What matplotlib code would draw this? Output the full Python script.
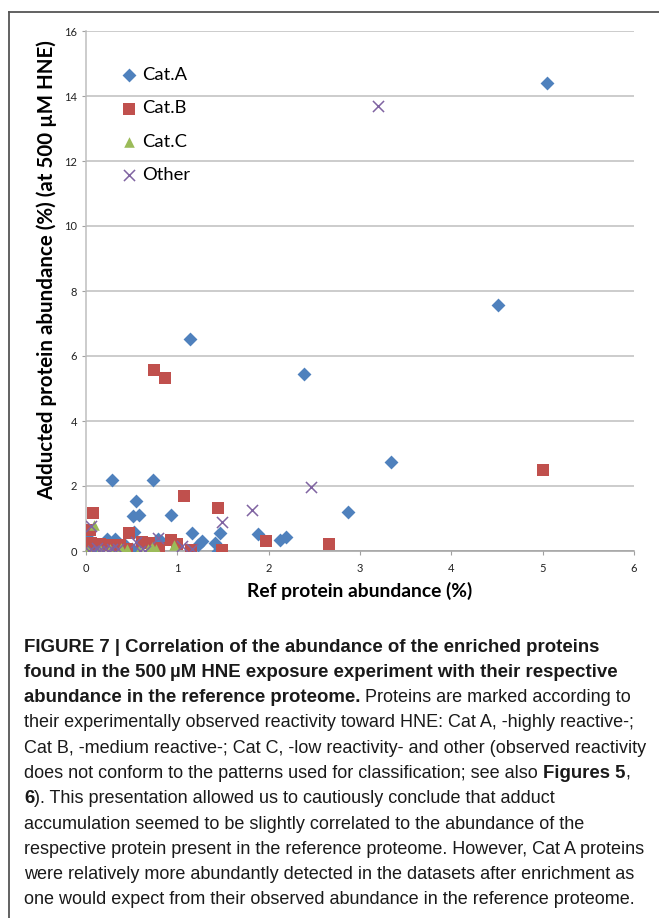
import matplotlib
matplotlib.use('Agg')
import matplotlib.pyplot as plt
from matplotlib import font_manager as fm
from matplotlib.lines import Line2D

# Dados
cat_a_x = [5.05, 4.51, 1.14, 2.39, 3.34, 0.29, 0.73, 2.87, 0.55, 0.52, 0.58, 0.93, 0.53, 1.16, 1.47, 1.88,
           2.12, 2.19, 1.27, 1.23, 1.41, 1.44, 0.23, 0.32, 0.03, 0.43, 0.79, 0.82, 0.05, 0.12, 0.50]
cat_a_y = [14.39, 7.57, 6.52, 5.45, 2.73, 2.18, 2.18, 1.20, 1.53, 1.08, 1.11, 1.10, 0.60, 0.56, 0.56, 0.53,
           0.35, 0.42, 0.32, 0.17, 0.24, 0.01, 0.38, 0.38, 0.36, 0.20, 0.36, 0.30, 0.05, 0.10, 0.05]

cat_b_x = [5.00, 0.74, 0.87, 1.07, 1.45, 0.08, 0.04, 0.47, 0.93, 1.00, 1.97, 2.66, 1.15, 1.49, 0.61, 0.69,
           0.80, 0.06, 0.15, 0.26, 0.37, 0.02, 0.45]
cat_b_y = [2.48, 5.57, 5.33, 1.68, 1.33, 1.18, 0.66, 0.56, 0.33, 0.23, 0.31, 0.23, 0.02, 0.03, 0.29, 0.24,
           0.10, 0.26, 0.23, 0.20, 0.17, 0.05, 0.05]

cat_c_x = [0.09, 0.96, 0.77, 0.68, 0.45, 0.26, 0.15, 0.02, 0.38, 0.58, 0.72]
cat_c_y = [0.80, 0.18, 0.05, 0.07, 0.05, 0.07, 0.05, 0.03, 0.10, 0.04, 0.12]

other_x = [3.20, 2.46, 1.82, 1.49, 0.79, 1.05, 1.16, 0.55, 0.06, 0.03, 0.08, 0.14, 0.19, 0.24, 0.35, 0.59,
           0.65, 0.12, 0.28]
other_y = [13.68, 1.96, 1.26, 0.88, 0.40, 0.15, 0.05, 0.27, 0.76, 0.00, 0.00, 0.00, 0.00, 0.00, 0.05, 0.00,
           0.00, 0.08, 0.05]

x_ticks = [0, 1, 2, 3, 4, 5, 6]
y_ticks = [0, 2, 4, 6, 8, 10, 12, 14, 16]

# Legenda do artigo: (texto, negrito)
caption = [
    [("FIGURE 7 | Correlation of the abundance of the enriched proteins", True)],
    [("found in the 500\u2009\u00b5M HNE exposure experiment with their respective", True)],
    [("abundance in the reference proteome.", True), (" Proteins are marked according to", False)],
    [("their experimentally observed reactivity toward HNE: Cat A, -highly reactive-;", False)],
    [("Cat B, -medium reactive-; Cat C, -low reactivity- and other (observed reactivity", False)],
    [("does not conform to the patterns used for classification; see also ", False), ("Figures 5", True), (",", False)],
    [("6", True), ("). This presentation allowed us to cautiously conclude that adduct", False)],
    [("accumulation seemed to be slightly correlated to the abundance of the", False)],
    [("respective protein present in the reference proteome. However, Cat A proteins", False)],
    [("were relatively more abundantly detected in the datasets after enrichment as", False)],
    [("one would expect from their observed abundance in the reference proteome.", False)],
]

nomes = [f.name for f in fm.fontManager.ttflist]
cap_font = 'Liberation Sans Narrow' if 'Liberation Sans Narrow' in nomes else 'Liberation Sans'
chart_font = 'Lato'

W, H = 659, 918
fig = plt.figure(figsize=(W / 100, H / 100), dpi=100)
fig.patch.set_facecolor('white')

ax = fig.add_axes([86 / W, 1 - 551 / H, (634 - 86) / W, (551 - 31) / H])

ax.scatter(cat_a_x, cat_a_y, marker='D', s=50, color='#4F81BD', label='Cat.A', zorder=3, linewidths=0)
ax.scatter(cat_b_x, cat_b_y, marker='s', s=66, color='#C0504D', label='Cat.B', zorder=3, linewidths=0)
ax.scatter(cat_c_x, cat_c_y, marker='^', s=58, color='#9BBB59', label='Cat.C', zorder=3, linewidths=0)
ax.scatter(other_x, other_y, marker='x', s=64, color='#8064A2', label='Other', zorder=3, linewidths=1.1)

ax.set_xlim(0, 6)
ax.set_ylim(0, 16)
ax.set_xticks(x_ticks)
ax.set_yticks(y_ticks)
ax.grid(axis='y', color='#BFBFBF', linewidth=1.1)
ax.set_axisbelow(True)
for s in ['top', 'right']:
    ax.spines[s].set_visible(False)
ax.spines['left'].set_color('#BFBFBF')
ax.spines['bottom'].set_color('#A0A0A0')
ax.spines['left'].set_linewidth(1.1)
ax.spines['bottom'].set_linewidth(1.1)
ax.tick_params(axis='both', colors='#A0A0A0', labelcolor='#222222', labelsize=8, length=3)
ax.tick_params(axis='x', pad=6)
for lab in ax.get_xticklabels() + ax.get_yticklabels():
    lab.set_family(chart_font)

ax.set_xlabel('Ref protein abundance (%)', family=chart_font, fontweight='bold', fontsize=13.9, labelpad=5)
ax.set_ylabel('Adducted protein abundance (%) (at 500 \u00b5M HNE)', family=chart_font, fontweight='bold',
              fontsize=14.8)
ax.yaxis.set_label_coords(-0.052, 0.54)

leg = ax.legend(loc='upper left', bbox_to_anchor=(0.045, 0.945), frameon=False,
                prop={'family': chart_font, 'size': 13.2},
                handletextpad=0.1, labelspacing=0.95, scatterpoints=1, handlelength=1.2, borderaxespad=0)

# moldura
fig.add_artist(Line2D([9 / W, 9 / W], [0, 1 - 12 / H], color='#555555', linewidth=1.3))
fig.add_artist(Line2D([9 / W, 1], [1 - 12 / H, 1 - 12 / H], color='#555555', linewidth=1.3))

# texto da legenda do artigo
fig.canvas.draw()
renderer = fig.canvas.get_renderer()
y0 = 647
dy = 25.3
for i, linha in enumerate(caption):
    x = 24
    for texto, negrito in linha:
        t = fig.text(x / W, 1 - (y0 + i * dy) / H, texto, family=cap_font,
                     fontsize=13.45 if negrito else 12.95,
                     fontweight='bold' if negrito else 'normal', va='center', ha='left', color='#1a1a1a')
        bb = t.get_window_extent(renderer)
        x += bb.width

fig.savefig('out.png', dpi=100)
